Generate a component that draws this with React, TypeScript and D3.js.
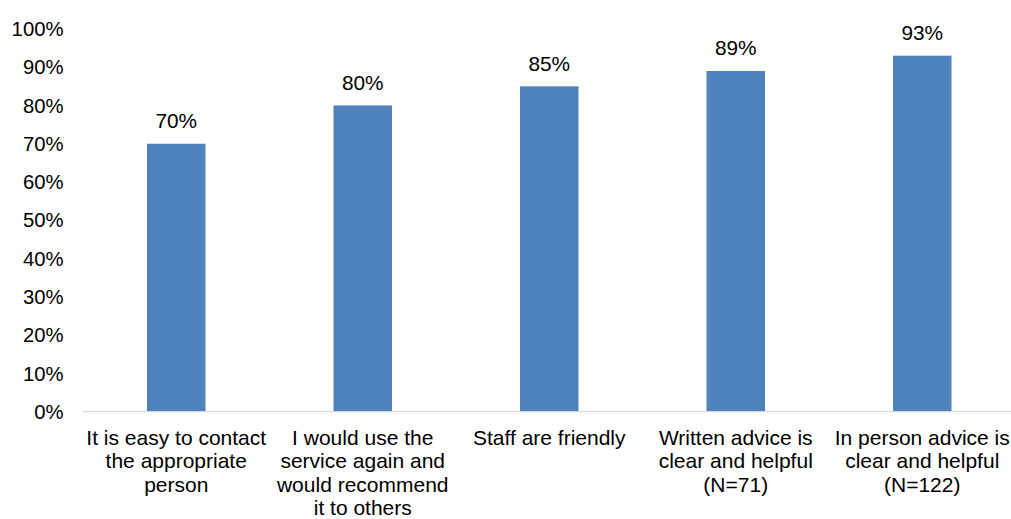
import React from "react";
import * as d3 from "d3";

const categories: string[][] = [
  ["It is easy to contact", "the appropriate", "person"],
  ["I would use the", "service again and", "would recommend", "it to others"],
  ["Staff are friendly"],
  ["Written advice is", "clear and helpful", "(N=71)"],
  ["In person advice is", "clear and helpful", "(N=122)"],
];
const values: number[] = [70, 80, 85, 89, 93];
const yTicks: number[] = [0, 10, 20, 30, 40, 50, 60, 70, 80, 90, 100];

const W = 1011;
const H = 519;
const FONT = "'Liberation Sans', Arial, sans-serif";

export default function App() {
  const x = d3
    .scaleBand<number>()
    .domain(values.map((_, i) => i))
    .range([83, 1015.5])
    .paddingInner(0.69)
    .paddingOuter(0.345);
  const y = d3.scaleLinear().domain([0, 100]).range([411.7, 28.9]);
  const bw = 58.5;

  return (
    <svg
      width={W}
      height={H}
      style={{ position: "absolute", left: 0, top: 0, background: "#fff" }}
      fontFamily={FONT}
    >
      {yTicks.map((t) => (
        <text
          key={t}
          x={63.5}
          y={y(t)}
          dy="0.35em"
          textAnchor="end"
          fontSize={20.3}
          fill="#000"
        >
          {t}%
        </text>
      ))}
      {values.map((v, i) => {
        const cx = (x(i) as number) + x.bandwidth() / 2;
        return (
          <g key={i}>
            <rect
              x={cx - bw / 2}
              y={y(v)}
              width={bw}
              height={y(0) - y(v)}
              fill="#4f81bd"
            />
            <text
              x={cx}
              y={y(v) - 15.8}
              textAnchor="middle"
              fontSize={20.8}
              fill="#000"
            >
              {v}%
            </text>
            {categories[i].map((line, j) => (
              <text
                key={j}
                x={cx}
                y={445 + j * 23.4}
                textAnchor="middle"
                fontSize={21}
                fill="#000"
              >
                {line}
              </text>
            ))}
          </g>
        );
      })}
      <line x1={83} x2={1011} y1={y(0)} y2={y(0)} stroke="#d9d9d9" strokeWidth={1.2} />
    </svg>
  );
}
